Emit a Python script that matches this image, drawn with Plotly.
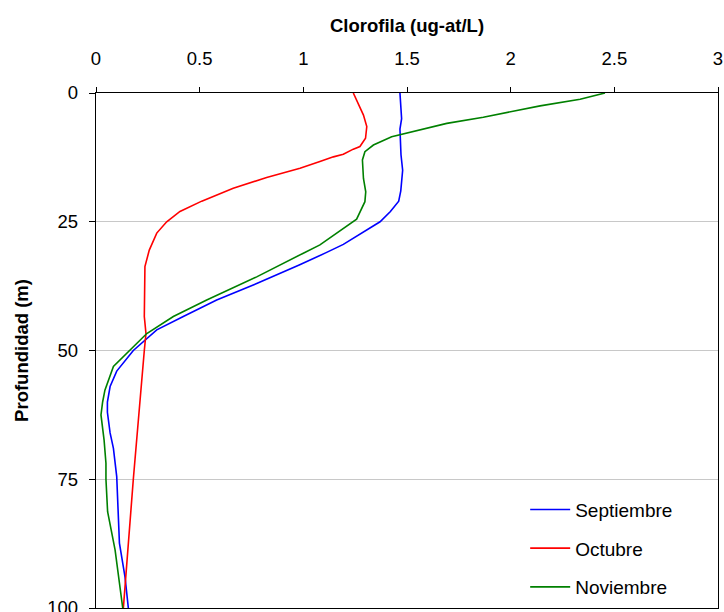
import plotly.graph_objects as go

# Septiembre
sep_depth = [0, 5, 7, 12, 15, 19, 21, 23, 25, 27, 29.4, 31, 33.4, 37, 40.2, 43.4, 46, 50, 54, 57, 60, 62, 66, 69, 74.5, 87.4, 94, 100]
sep_chl = [1.466, 1.474, 1.466, 1.471, 1.479, 1.47, 1.46, 1.42, 1.37, 1.29, 1.193, 1.11, 0.98, 0.775, 0.582, 0.421, 0.293, 0.18, 0.10, 0.068, 0.055, 0.055, 0.068, 0.084, 0.10, 0.113, 0.14, 0.156]

# Octubre
oct_depth = [0, 4.3, 6.5, 8.8, 10.4, 10.9, 11.9, 12.4, 13.3, 14.6, 16.4, 18.5, 21, 23, 25, 27.2, 30.5, 33.7, 43.4, 46.7, 50, 61.6, 75, 100]
oct_chl = [1.241, 1.29, 1.306, 1.30, 1.273, 1.241, 1.193, 1.145, 1.08, 0.984, 0.823, 0.662, 0.51, 0.405, 0.341, 0.293, 0.257, 0.236, 0.233, 0.241, 0.233, 0.209, 0.18, 0.132]

# Noviembre
nov_depth = [0, 1.2, 2.5, 4.7, 5.9, 8, 8.5, 10.1, 11.4, 13, 16.6, 19.2, 21.1, 24.5, 27.2, 29.5, 31.1, 33.4, 35.7, 40.2, 43.4, 46.7, 50, 53.1, 57.7, 60, 62.5, 67.4, 71.9, 75, 81.3, 88.7, 100]
nov_chl = [2.455, 2.335, 2.142, 1.868, 1.692, 1.482, 1.426, 1.338, 1.297, 1.285, 1.29, 1.301, 1.297, 1.257, 1.161, 1.08, 1.0, 0.887, 0.775, 0.534, 0.373, 0.245, 0.164, 0.084, 0.043, 0.032, 0.024, 0.039, 0.048, 0.048, 0.056, 0.092, 0.129]

x_ticks = [0, 0.5, 1, 1.5, 2, 2.5, 3]
x_ticklabels = ["0", "0.5", "1", "1.5", "2", "2.5", "3"]
y_ticks = [0, 25, 50, 75, 100]

series = [
    ("Septiembre", sep_chl, sep_depth, "#0000ff"),
    ("Octubre", oct_chl, oct_depth, "#ff0000"),
    ("Noviembre", nov_chl, nov_depth, "#008000"),
]

fig = go.Figure()
for name, xs, ys, color in series:
    fig.add_trace(go.Scatter(
        x=xs, y=ys, mode="lines", name=name, legendgroup=name,
        line=dict(color=color, width=1.6),
    ))

font_family = "Liberation Sans, Arial, sans-serif"

fig.update_layout(
    width=724, height=612,
    margin=dict(l=96, r=6, t=93, b=4, pad=0),
    paper_bgcolor="white", plot_bgcolor="white",
    font=dict(family=font_family, size=18.5, color="black"),
    showlegend=True,
    legend=dict(
        x=0.69, y=0.228, xanchor="left", yanchor="top",
        bgcolor="rgba(0,0,0,0)", borderwidth=0,
        font=dict(size=19, color="black"),
        traceorder="grouped", tracegroupgap=11, itemwidth=40,
    ),
    xaxis=dict(
        side="top", range=[0, 3], tickvals=x_ticks, ticktext=x_ticklabels,
        showgrid=False, zeroline=False, automargin=False,
        showline=True, linecolor="black", linewidth=1.3, mirror=True,
        ticks="outside", ticklen=5, tickcolor="black", tickwidth=1,
        ticklabelstandoff=14, ticklabeloverflow="allow",
        tickfont=dict(size=18.5),
        title=dict(text="<b>Clorofila (ug-at/L)</b>", font=dict(size=18.5), standoff=10),
    ),
    yaxis=dict(
        range=[100, 0], tickvals=y_ticks,
        showgrid=True, gridcolor="#c8c8c8", gridwidth=1, zeroline=False, automargin=False,
        showline=True, linecolor="black", linewidth=1.3, mirror=True,
        ticks="outside", ticklen=6, tickcolor="black", tickwidth=1,
        ticklabelstandoff=7, ticklabeloverflow="allow",
        tickfont=dict(size=18.5),
        title=dict(text="<b>Profundidad (m)</b>", font=dict(size=18.5), standoff=13),
    ),
)

fig.write_html("out.html")
